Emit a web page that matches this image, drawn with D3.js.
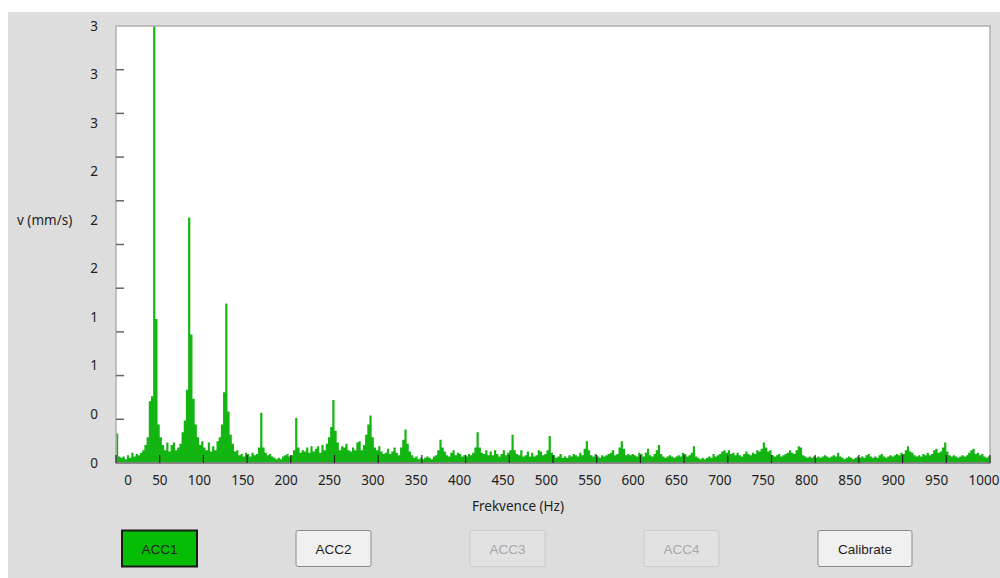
<!DOCTYPE html>
<html lang="cs">
<head>
    <meta charset="UTF-8">
    <title>Frekvenční spektrum - v (mm/s)</title>
    <script src="https://cdn.jsdelivr.net/npm/d3@7"></script>
</head>
<style>
    body {
        margin: 0;
        background: #ffffff;
    }
    svg {
        display: block;
    }
    .axis-text {
        font-family: "Noto Sans", "Open Sans", sans-serif;
        font-size: 13.5px;
        fill: #222;
    }
    .btn-text {
        font-family: "Liberation Sans", Arial, sans-serif;
        font-size: 13.5px;
    }
</style>
<body>
    <div id="graphDiv"></div>

    <script>
        // spectrum bins, 2.5 Hz wide, starting at 0 Hz (values in mm/s)
        const freqStep = 2.5;
        const velocity = [
            0.23, 0.05, 0.04, 0.05, 0.03, 0.06, 0.04, 0.08, 0.05, 0.07, 0.06, 0.08, 0.10, 0.14, 0.20, 0.48, 0.52, 3.45, 1.12, 0.30,
            0.20, 0.14, 0.10, 0.16, 0.09, 0.14, 0.16, 0.10, 0.12, 0.15, 0.24, 0.33, 0.57, 1.91, 1.00, 0.50, 0.30, 0.20, 0.14, 0.17,
            0.12, 0.10, 0.16, 0.09, 0.13, 0.10, 0.17, 0.20, 0.30, 0.55, 1.24, 0.40, 0.22, 0.15, 0.09, 0.10, 0.06, 0.07, 0.05, 0.08,
            0.07, 0.05, 0.08, 0.06, 0.07, 0.12, 0.39, 0.12, 0.08, 0.06, 0.07, 0.05, 0.04, 0.03, 0.04, 0.03, 0.05, 0.06, 0.07, 0.05,
            0.06, 0.10, 0.35, 0.12, 0.08, 0.10, 0.09, 0.12, 0.08, 0.13, 0.09, 0.11, 0.13, 0.08, 0.14, 0.10, 0.15, 0.20, 0.28, 0.49,
            0.25, 0.16, 0.10, 0.13, 0.12, 0.15, 0.10, 0.09, 0.12, 0.10, 0.16, 0.17, 0.10, 0.14, 0.22, 0.30, 0.37, 0.20, 0.12, 0.10,
            0.13, 0.09, 0.07, 0.08, 0.11, 0.07, 0.09, 0.12, 0.08, 0.06, 0.12, 0.18, 0.26, 0.15, 0.09, 0.06, 0.04, 0.05, 0.03, 0.04,
            0.03, 0.04, 0.05, 0.04, 0.03, 0.05, 0.06, 0.10, 0.18, 0.12, 0.09, 0.06, 0.05, 0.08, 0.10, 0.06, 0.08, 0.07, 0.05, 0.06,
            0.05, 0.07, 0.06, 0.08, 0.12, 0.24, 0.12, 0.08, 0.07, 0.10, 0.06, 0.09, 0.06, 0.10, 0.07, 0.05, 0.07, 0.10, 0.06, 0.08,
            0.10, 0.22, 0.10, 0.07, 0.06, 0.10, 0.05, 0.06, 0.09, 0.05, 0.08, 0.05, 0.06, 0.10, 0.09, 0.06, 0.07, 0.10, 0.21, 0.08,
            0.06, 0.04, 0.05, 0.07, 0.04, 0.05, 0.04, 0.06, 0.05, 0.07, 0.06, 0.05, 0.08, 0.06, 0.11, 0.17, 0.10, 0.06, 0.05, 0.07,
            0.05, 0.04, 0.06, 0.05, 0.06, 0.07, 0.08, 0.10, 0.06, 0.07, 0.12, 0.17, 0.11, 0.06, 0.07, 0.06, 0.07, 0.06, 0.05, 0.08,
            0.07, 0.05, 0.08, 0.11, 0.06, 0.05, 0.07, 0.10, 0.14, 0.07, 0.05, 0.04, 0.05, 0.06, 0.05, 0.04, 0.05, 0.06, 0.05, 0.08,
            0.07, 0.05, 0.06, 0.08, 0.13, 0.05, 0.04, 0.03, 0.04, 0.03, 0.04, 0.05, 0.04, 0.07, 0.05, 0.06, 0.07, 0.09, 0.10, 0.08,
            0.10, 0.07, 0.08, 0.06, 0.08, 0.06, 0.05, 0.07, 0.09, 0.07, 0.06, 0.08, 0.07, 0.10, 0.09, 0.11, 0.16, 0.12, 0.09, 0.10,
            0.06, 0.05, 0.06, 0.07, 0.05, 0.06, 0.07, 0.08, 0.10, 0.08, 0.07, 0.10, 0.13, 0.12, 0.06, 0.05, 0.04, 0.05, 0.04, 0.05,
            0.04, 0.05, 0.04, 0.05, 0.06, 0.05, 0.04, 0.05, 0.06, 0.05, 0.08, 0.05, 0.04, 0.03, 0.04, 0.05, 0.04, 0.03, 0.04, 0.05,
            0.04, 0.05, 0.04, 0.06, 0.07, 0.05, 0.04, 0.05, 0.04, 0.06, 0.07, 0.05, 0.04, 0.05, 0.06, 0.05, 0.06, 0.07, 0.06, 0.08,
            0.07, 0.10, 0.13, 0.09, 0.08, 0.06, 0.05, 0.06, 0.05, 0.07, 0.06, 0.08, 0.06, 0.07, 0.10, 0.11, 0.08, 0.09, 0.12, 0.16,
            0.09, 0.06, 0.05, 0.06, 0.05, 0.04, 0.05, 0.06, 0.05, 0.06, 0.08, 0.10, 0.11, 0.07, 0.08, 0.06, 0.07, 0.05, 0.04, 0.05
        ];

        // axis ticks and labels
        const xTickValues = [0, 50, 100, 150, 200, 250, 300, 350, 400, 450, 500, 550, 600, 650, 700, 750, 800, 850, 900, 950, 1000];
        const xTickLabels = ["0", "50", "100", "150", "200", "250", "300", "350", "400", "450", "500", "550", "600", "650", "700", "750", "800", "850", "900", "950", "1000"];
        const yTickMarks = [0.34, 0.68, 1.02, 1.36, 1.7, 2.04, 2.38, 2.72, 3.06];
        const yLabelValues = [0, 0.378, 0.756, 1.133, 1.511, 1.889, 2.267, 2.644, 3.022, 3.4];
        const yTickLabels = ["0", "0", "1", "1", "2", "2", "2", "3", "3", "3"];
        const yTitle = "v (mm/s)";
        const xTitle = "Frekvence (Hz)";

        // buttons under the chart
        const buttonLabels = ["ACC1", "ACC2", "ACC3", "ACC4", "Calibrate"];
        const buttonStates = ["active", "normal", "disabled", "disabled", "normal"];

        const width = 1000;
        const height = 578;
        const plot = {left: 116, right: 990, top: 26, bottom: 463};
        const green = "#12b512";

        const x = d3.scaleLinear().domain([0, 1000]).range([plot.left, plot.right]);
        const y = d3.scaleLinear().domain([0, 3.4]).range([plot.bottom, plot.top]);

        const svg = d3.select("#graphDiv").append("svg")
            .attr("width", width)
            .attr("height", height);

        // grey panel
        svg.append("rect")
            .attr("x", 8).attr("y", 12)
            .attr("width", width - 8).attr("height", height - 12)
            .attr("fill", "#dddddd");

        // plot background
        svg.append("rect")
            .attr("x", plot.left).attr("y", plot.top)
            .attr("width", plot.right - plot.left).attr("height", plot.bottom - plot.top)
            .attr("fill", "#ffffff");

        svg.append("clipPath").attr("id", "plotClip")
            .append("rect")
            .attr("x", plot.left).attr("y", plot.top)
            .attr("width", plot.right - plot.left).attr("height", plot.bottom - plot.top);

        // spectrum
        const points = velocity.map((v, i) => ({f: i * freqStep, v: v}));
        points.push({f: 1000, v: velocity[velocity.length - 1]});

        const area = d3.area()
            .x(d => x(d.f))
            .y0(y(0))
            .y1(d => y(d.v))
            .curve(d3.curveStepAfter);

        svg.append("path")
            .datum(points)
            .attr("clip-path", "url(#plotClip)")
            .attr("fill", green)
            .attr("d", area);

        // plot frame
        svg.append("rect")
            .attr("x", plot.left).attr("y", plot.top)
            .attr("width", plot.right - plot.left).attr("height", plot.bottom - plot.top)
            .attr("fill", "none")
            .attr("stroke", "#b0b0b0")
            .attr("stroke-width", 1.5);

        svg.append("line")
            .attr("x1", plot.left).attr("x2", plot.right)
            .attr("y1", plot.bottom).attr("y2", plot.bottom)
            .attr("stroke", "#777")
            .attr("stroke-width", 1.5);

        // y tick marks (inside the plot)
        svg.append("g")
            .selectAll("line")
            .data(yTickMarks)
            .join("line")
            .attr("x1", plot.left).attr("x2", plot.left + 8)
            .attr("y1", d => y(d)).attr("y2", d => y(d))
            .attr("stroke", "#666")
            .attr("stroke-width", 1.5);

        // x tick marks (inside the plot)
        svg.append("g")
            .selectAll("line")
            .data(xTickValues)
            .join("line")
            .attr("x1", d => x(d)).attr("x2", d => x(d))
            .attr("y1", plot.bottom - 8).attr("y2", plot.bottom)
            .attr("stroke", "#222")
            .attr("stroke-width", 1.2);

        // y labels
        svg.append("g")
            .selectAll("text")
            .data(yLabelValues)
            .join("text")
            .attr("class", "axis-text")
            .attr("x", 98)
            .attr("y", d => y(d) + 4.5)
            .attr("text-anchor", "end")
            .text((d, i) => yTickLabels[i]);

        svg.append("text")
            .attr("class", "axis-text")
            .attr("x", 17)
            .attr("y", y(yLabelValues[5]) + 4.5)
            .text(yTitle);

        // x labels are laid out left to right with a fixed gap
        const xLabels = svg.append("g")
            .selectAll("text")
            .data(xTickValues)
            .join("text")
            .attr("class", "axis-text")
            .attr("y", 484.5)
            .text((d, i) => xTickLabels[i]);

        let cursor = plot.left + 8.2;
        xLabels.each(function() {
            const w = this.getComputedTextLength();
            d3.select(this).attr("x", cursor);
            cursor += w + 20.2;
        });

        svg.append("text")
            .attr("class", "axis-text")
            .attr("x", 518)
            .attr("y", 510.5)
            .attr("text-anchor", "middle")
            .text(xTitle);

        // buttons
        const bx = d3.scaleLinear().domain([0, 4]).range([122, 818]);
        const btn = svg.append("g")
            .selectAll("g")
            .data(buttonLabels)
            .join("g")
            .attr("transform", (d, i) => `translate(${bx(i)},530.5)`);

        btn.append("rect")
            .attr("width", (d, i) => i === 4 ? 94 : 75)
            .attr("height", 36)
            .attr("rx", (d, i) => buttonStates[i] === "active" ? 0 : 2)
            .attr("fill", (d, i) => buttonStates[i] === "active" ? "#05bd05" : buttonStates[i] === "disabled" ? "#e2e2e2" : "#f0f0f0")
            .attr("stroke", (d, i) => buttonStates[i] === "active" ? "#1a1a1a" : buttonStates[i] === "disabled" ? "#cbcbcb" : "#8a8a8a")
            .attr("stroke-width", (d, i) => buttonStates[i] === "active" ? 2 : 1);

        btn.append("text")
            .attr("class", "btn-text")
            .attr("x", (d, i) => (i === 4 ? 94 : 75) / 2)
            .attr("y", 23)
            .attr("text-anchor", "middle")
            .attr("fill", (d, i) => buttonStates[i] === "disabled" ? "#a8a8a8" : "#1e1e1e")
            .text(d => d);
    </script>
</body>
</html>
